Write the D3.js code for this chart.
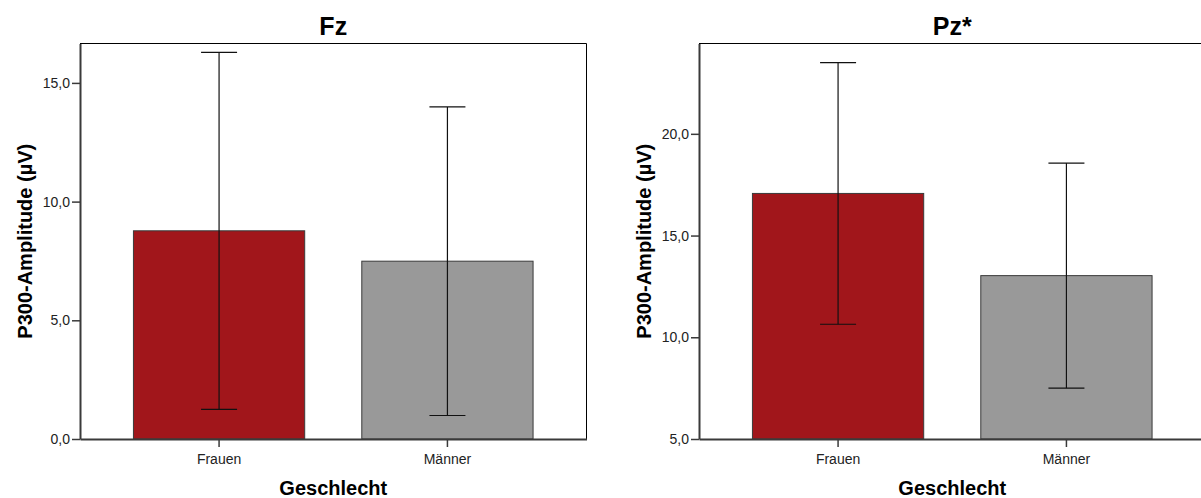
<!DOCTYPE html>
<html>
<head>
<meta charset="utf-8">
<script src="https://cdn.jsdelivr.net/npm/d3@7"></script>
<style>
  html, body { margin: 0; padding: 0; background: #fff; }
  svg { display: block; font-family: "Liberation Sans", Arial, sans-serif; }
</style>
</head>
<body>
<svg id="chart" width="1201" height="498"></svg>
<script>
// Gender groups on the x axis
const categories = ["Frauen", "Männer"];

// Mean P300 amplitude (µV) and error-bar half-width per group, electrode Fz
const fzMeans = [8.77, 7.49];
const fzErrors = [7.52, 6.50];

// Mean P300 amplitude (µV) and error-bar half-width per group, electrode Pz
const pzMeans = [17.07, 13.03];
const pzErrors = [6.43, 5.53];

// Value ranges and tick values of the two y axes
const fzDomain = [0, 16.66];
const pzDomain = [5, 24.44];
const fzTicks = [0, 5, 10, 15];
const pzTicks = [5, 10, 15, 20];

const panelTitles = ["Fz", "Pz*"];
const xTitle = "Geschlecht";
const yTitle = "P300-Amplitude (µV)";

const barColors = ["#a1161b", "#999999"];

// German number format: comma as decimal separator
const deLocale = d3.formatLocale({ decimal: ",", thousands: ".", grouping: [3], currency: ["", " €"] });
const fmt = deLocale.format(".1f");

const svg = d3.select("#chart");

const plotW = 506.5;
const plotTop = 43.5;
const plotBottom = 439;

const panels = [
  { title: panelTitles[0], means: fzMeans, errors: fzErrors, domain: fzDomain, ticks: fzTicks, left: 80 },
  { title: panelTitles[1], means: pzMeans, errors: pzErrors, domain: pzDomain, ticks: pzTicks, left: 699 }
];

panels.forEach(p => {
  const g = svg.append("g").attr("transform", `translate(${p.left},0)`);

  const x = d3.scaleBand()
    .domain(categories)
    .range([0, plotW])
    .paddingInner(0.25)
    .paddingOuter(0.234);

  const y = d3.scaleLinear()
    .domain(p.domain)
    .range([plotBottom, plotTop]);

  const rows = categories.map((c, i) => ({ cat: c, mean: p.means[i], err: p.errors[i], color: barColors[i] }));

  // Bars
  g.selectAll("rect.bar")
    .data(rows)
    .join("rect")
    .attr("class", "bar")
    .attr("x", d => x(d.cat))
    .attr("width", x.bandwidth())
    .attr("y", d => y(d.mean))
    .attr("height", d => y(p.domain[0]) - y(d.mean))
    .attr("fill", d => d.color)
    .attr("stroke", "#3a3a3a")
    .attr("stroke-width", 1);

  // Error bars
  const cap = 18;
  const eb = g.selectAll("g.err")
    .data(rows)
    .join("g")
    .attr("class", "err")
    .attr("transform", d => `translate(${x(d.cat) + x.bandwidth() / 2},0)`);
  eb.append("line")
    .attr("x1", 0).attr("x2", 0)
    .attr("y1", d => y(d.mean + d.err))
    .attr("y2", d => y(d.mean - d.err))
    .attr("stroke", "#111").attr("stroke-width", 1.2);
  eb.append("line")
    .attr("x1", -cap).attr("x2", cap)
    .attr("y1", d => y(d.mean + d.err)).attr("y2", d => y(d.mean + d.err))
    .attr("stroke", "#111").attr("stroke-width", 1.2);
  eb.append("line")
    .attr("x1", -cap).attr("x2", cap)
    .attr("y1", d => y(d.mean - d.err)).attr("y2", d => y(d.mean - d.err))
    .attr("stroke", "#111").attr("stroke-width", 1.2);

  // Frame: top and right edges
  g.append("path")
    .attr("d", `M0,${plotTop}H${plotW}V${plotBottom}`)
    .attr("fill", "none")
    .attr("stroke", "#000")
    .attr("stroke-width", 1);

  // Y axis
  const yAxis = g.append("g")
    .call(d3.axisLeft(y).tickValues(p.ticks).tickFormat(fmt).tickSize(8).tickPadding(2).tickSizeOuter(0));
  yAxis.select(".domain").attr("stroke", "#3a3a3a").attr("stroke-width", 2);
  yAxis.selectAll(".tick line").attr("stroke", "#3a3a3a").attr("stroke-width", 1.5);
  yAxis.selectAll(".tick text")
    .attr("font-size", 14)
    .attr("font-family", "Liberation Sans, Arial, sans-serif")
    .attr("fill", "#222");

  // X axis
  const xAxis = g.append("g")
    .attr("transform", `translate(0,${plotBottom})`)
    .call(d3.axisBottom(x).tickSize(8).tickPadding(7.5).tickSizeOuter(0));
  xAxis.select(".domain").attr("stroke", "#3a3a3a").attr("stroke-width", 2);
  xAxis.selectAll(".tick line").attr("stroke", "#3a3a3a").attr("stroke-width", 1.5);
  xAxis.selectAll(".tick text")
    .attr("font-size", 14)
    .attr("font-family", "Liberation Sans, Arial, sans-serif")
    .attr("fill", "#222");

  // Panel title
  g.append("text")
    .attr("x", plotW / 2)
    .attr("y", 35)
    .attr("text-anchor", "middle")
    .attr("font-size", 25)
    .attr("font-weight", "bold")
    .attr("fill", "#000")
    .text(p.title);

  // X axis title
  g.append("text")
    .attr("x", plotW / 2)
    .attr("y", 495)
    .attr("text-anchor", "middle")
    .attr("font-size", 20)
    .attr("font-weight", "bold")
    .attr("fill", "#000")
    .text(xTitle);

  // Y axis title
  g.append("text")
    .attr("transform", `translate(-48,${(plotTop + plotBottom) / 2}) rotate(-90)`)
    .attr("text-anchor", "middle")
    .attr("font-size", 20)
    .attr("font-weight", "bold")
    .attr("fill", "#000")
    .text(yTitle);
});
</script>
</body>
</html>
